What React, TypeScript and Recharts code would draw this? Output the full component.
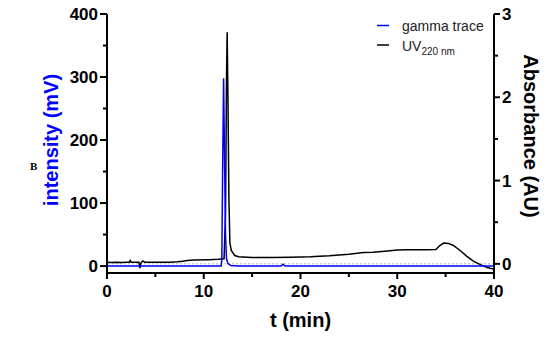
import React from 'react';
import { ComposedChart, Line, XAxis, YAxis, ReferenceLine, Legend } from 'recharts';

// gamma trace (left axis, mV)
const gammaTime = [0, 5, 10, 11.8, 11.87, 11.95, 12.05, 12.15, 12.25, 12.35, 12.5, 12.8, 13.5, 18.0, 18.2, 18.4, 25, 30, 35, 40];
const gammaCounts = [0, 0, 0, 0, 10, 150, 298, 170, 50, 12, 4, 1, 0, 0, 3, 0, 0, 0, 0, 0];

// UV 220 nm (right axis, AU)
const uvTime = [0, 0.5, 1, 1.5, 2, 2.3, 2.4, 2.5, 3.0, 3.3, 3.4, 3.5, 3.7, 3.9, 4.5, 5.5, 6.5, 7.3, 7.8, 8.3, 9, 10.5, 11.5, 12.1, 12.25, 12.35, 12.42, 12.5, 12.6, 12.7, 12.85, 13.2, 13.6, 15, 17, 19, 21, 23, 25, 26.5, 27.5, 29, 30, 31, 32, 33, 34, 34.4, 34.8, 35.3, 35.8, 36.5, 37.2, 37.9, 38.6, 39.3, 40];
const uvAbs = [0.02, 0.015, 0.02, 0.015, 0.02, 0.02, 0.04, 0.02, 0.02, 0.02, -0.05, 0.01, 0.035, 0.02, 0.02, 0.02, 0.02, 0.025, 0.03, 0.04, 0.045, 0.05, 0.055, 0.06, 0.6, 2.2, 2.78, 2.0, 0.8, 0.25, 0.16, 0.1, 0.085, 0.075, 0.075, 0.08, 0.085, 0.097, 0.115, 0.135, 0.14, 0.155, 0.165, 0.17, 0.17, 0.17, 0.172, 0.22, 0.25, 0.245, 0.22, 0.16, 0.09, 0.03, -0.01, -0.045, -0.065];

const xTicks = [0, 5, 10, 15, 20, 25, 30, 35, 40];
const leftTicks = [0, 50, 100, 150, 200, 250, 300, 350, 400];
const rightTicks = [0, 0.5, 1, 1.5, 2, 2.5, 3];

const seriesNames = ['gamma trace', 'UV'];
const uvSub = '220 nm';

const gammaData = gammaTime.map((t, i) => ({ t, gamma: gammaCounts[i] }));
const uvData = uvTime.map((t, i) => ({ t, uv: uvAbs[i] }));

const FONT = '"Liberation Sans", Arial, Helvetica, sans-serif';

const XTick = (props: any) => {
  const { x, y, payload } = props;
  const v = payload.value;
  const major = v % 10 === 0;
  return (
    <g>
      <line x1={x} x2={x} y1={y} y2={y + (major ? 6 : 4)} stroke="#000" strokeWidth={2} />
      {major && (
        <text x={x} y={y + 24} textAnchor="middle" fontSize={17} fontWeight="bold" fontFamily={FONT} fill="#000">
          {v}
        </text>
      )}
    </g>
  );
};

const LeftTick = (props: any) => {
  const { x, y, payload } = props;
  const v = payload.value;
  const major = v % 100 === 0;
  return (
    <g>
      <line x1={x - (major ? 7 : 4)} x2={x} y1={y} y2={y} stroke="#000" strokeWidth={2} />
      {major && (
        <text x={x - 9} y={y + 6} textAnchor="end" fontSize={17} fontWeight="bold" fontFamily={FONT} fill="#000">
          {v}
        </text>
      )}
    </g>
  );
};

const RightTick = (props: any) => {
  const { x, y, payload } = props;
  const v = payload.value;
  const major = Number.isInteger(v);
  return (
    <g>
      <line x1={x} x2={x + (major ? 6 : 4)} y1={y} y2={y} stroke="#000" strokeWidth={2} />
      {major && (
        <text x={x + 8} y={y + 6} textAnchor="start" fontSize={17} fontWeight="bold" fontFamily={FONT} fill="#000">
          {v}
        </text>
      )}
    </g>
  );
};

const LegendBox = () => (
  <svg width={150} height={50} style={{ display: 'block' }}>
    <line x1={7} x2={19} y1={15.5} y2={15.5} stroke="#0000ff" strokeWidth={1.5} />
    <text x={32} y={21} fontSize={14} fontFamily={FONT} fill="#222">{seriesNames[0]}</text>
    <line x1={7} x2={19} y1={35} y2={35} stroke="#000" strokeWidth={1.5} />
    <text x={32} y={40.5} fontSize={14} fontFamily={FONT} fill="#222">
      {seriesNames[1]}
      <tspan fontSize={10} dy={4.5}>{uvSub}</tspan>
    </text>
  </svg>
);

export default function App() {
  return (
    <div style={{ position: 'absolute', left: 0, top: 0, width: 550, height: 338, background: '#fff' }}>
      <ComposedChart width={550} height={338} margin={{ top: 14, right: 0, bottom: 0, left: 0 }}>
        <XAxis
          type="number"
          dataKey="t"
          domain={[0, 40]}
          ticks={xTicks}
          height={65}
          tickSize={0}
          tickMargin={0}
          tickLine={false}
          axisLine={{ stroke: '#000', strokeWidth: 2 }}
          tick={<XTick />}
          allowDataOverflow
          label={(p: any) => {
            const vb = p.viewBox;
            return (
              <text x={vb.x + vb.width / 2} y={vb.y + 54} textAnchor="middle" fontSize={20} fontWeight="bold" fontFamily={FONT} fill="#000">
                t (min)
              </text>
            );
          }}
        />
        <YAxis
          yAxisId="left"
          orientation="left"
          domain={[-11, 400]}
          ticks={leftTicks}
          width={107}
          tickSize={0}
          tickMargin={0}
          tickLine={false}
          axisLine={{ stroke: '#000', strokeWidth: 2 }}
          tick={<LeftTick />}
          allowDataOverflow
          label={(p: any) => {
            const cx = 51;
            const cy = 140;
            return (
              <text x={cx} y={cy} transform={`rotate(-90, ${cx}, ${cy})`} textAnchor="middle" dominantBaseline="central" fontSize={20} fontWeight="bold" fontFamily={FONT} fill="#0000ff">
                intensity (mV)
              </text>
            );
          }}
        />
        <YAxis
          yAxisId="right"
          orientation="right"
          domain={[-0.11, 3]}
          ticks={rightTicks}
          width={56}
          tickSize={0}
          tickMargin={0}
          tickLine={false}
          axisLine={{ stroke: '#000', strokeWidth: 2 }}
          tick={<RightTick />}
          allowDataOverflow
          label={(p: any) => {
            const vb = p.viewBox;
            const cx = vb.x + 37;
            const cy = 136;
            return (
              <text x={cx} y={cy} transform={`rotate(90, ${cx}, ${cy})`} textAnchor="middle" dominantBaseline="central" fontSize={20} fontWeight="bold" fontFamily={FONT} fill="#000">
                Absorbance (AU)
              </text>
            );
          }}
        />
        <ReferenceLine yAxisId="right" y={0} stroke="#b0b0b0" strokeDasharray="2 2" strokeWidth={1} />
        <Line
          yAxisId="right"
          data={uvData}
          dataKey="uv"
          name="UV"
          type="linear"
          stroke="#000"
          strokeWidth={1.5}
          dot={false}
          activeDot={false}
          isAnimationActive={false}
        />
        <Line
          yAxisId="left"
          data={gammaData}
          dataKey="gamma"
          name="gamma trace"
          type="linear"
          stroke="#0000ff"
          strokeWidth={1.5}
          dot={false}
          activeDot={false}
          isAnimationActive={false}
        />
        <Legend
          layout="horizontal"
          verticalAlign="middle"
          align="center"
          wrapperStyle={{ position: 'absolute', left: 370, top: 10, width: 150, height: 50 }}
          content={() => <LegendBox />}
        />
      </ComposedChart>
      <span
        style={{
          position: 'absolute',
          left: 30,
          top: 160,
          fontFamily: '"Liberation Serif", "Times New Roman", serif',
          fontWeight: 'bold',
          fontSize: 11,
          lineHeight: 'normal',
          color: '#000',
        }}
      >
        B
      </span>
    </div>
  );
}
